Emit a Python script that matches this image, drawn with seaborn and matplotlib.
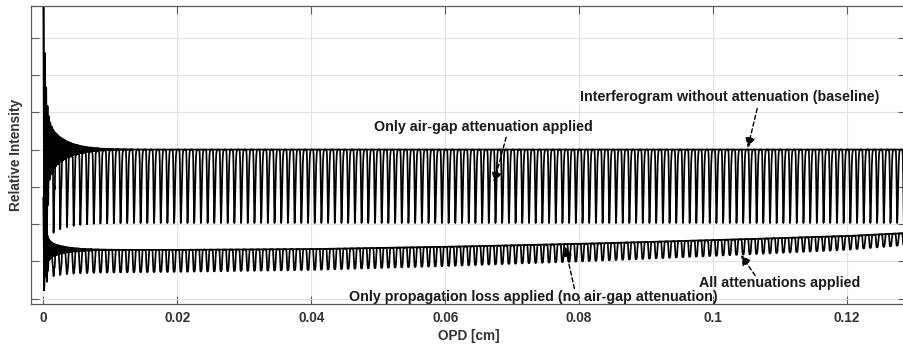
import numpy as np
import pandas as pd
import matplotlib
matplotlib.use("Agg")
import matplotlib.pyplot as plt
import seaborn as sns

# ---------------- values ----------------
# x axis ticks
xticks = [0, 0.02, 0.04, 0.06, 0.08, 0.10, 0.12]
xtick_labels = ["0", "0.02", "0.04", "0.06", "0.08", "0.1", "0.12"]
yticks = [0, 1, 2, 3, 4, 5, 6, 7]          # unlabeled y ticks (relative units)

# fringe period of the air-gap modulation (cm) and OPD extent
fringe_period = 0.001
opd_end = 0.12883

# baseline interferogram: mean level and centre-burst parameters
baseline_level = 4.0
burst_wavelength = 0.0002
burst_amp = [3.4, 0.9]          # amplitudes of the two decaying components
burst_decay = [0.0003, 0.0025]  # decay lengths (cm)

# air-gap only: dips from the baseline level down to ~2.0
airgap_depth = 1.97

# propagation loss: top line of the lower band (read at these OPDs)
prop_x = [0.0, 0.02, 0.04, 0.06, 0.08, 0.10, 0.12, 0.12883]
prop_level = [1.31, 1.31, 1.33, 1.39, 1.47, 1.57, 1.68, 1.76]

# all attenuations: depth of the loops under the propagation line
all_x = [0.0, 0.04, 0.09, 0.12, 0.12883]
all_depth = [0.62, 0.56, 0.45, 0.37, 0.32]

# annotations: (text, text xy, arrow tail xy, arrow tip xy)
labels = [
    ("Interferogram without attenuation (baseline)", (0.1025, 5.41), (0.1066, 5.10), (0.1052, 4.05)),
    ("Only air-gap attenuation applied", (0.0657, 4.60), (0.0691, 4.33), (0.0673, 3.12)),
    ("Only propagation loss applied (no air-gap attenuation)", (0.0731, 0.05), (0.0793, 0.27), (0.0779, 1.40)),
    ("All attenuations applied", (0.1100, 0.42), (0.1063, 0.62), (0.1042, 1.17)),
]

# ---------------- build the curves ----------------
x = np.linspace(0.0, opd_end, 90000)
env = burst_amp[0] * np.exp(-x / burst_decay[0]) + burst_amp[1] * np.exp(-x / burst_decay[1])
burst = env * np.cos(2 * np.pi * x / burst_wavelength)
baseline = baseline_level + burst

phi = np.mod(x / fringe_period, 1.0) - 0.5
sig = np.where(phi < 0, 0.07, 0.13)
g_up = np.exp(-0.5 * (phi / sig) ** 2)
wl = np.where(phi < 0, 0.17, 0.21)
g_lo = np.exp(-np.abs(phi / wl) ** 4)

airgap = baseline * (1 - (airgap_depth / baseline_level) * g_up)

top = np.interp(x, prop_x, prop_level)
prop = top * (1 + burst / baseline_level)
depth = np.interp(x, all_x, all_depth)
allatt = prop * (1 - (depth / top) * g_lo)

df = pd.DataFrame({"OPD": x, "baseline": baseline, "airgap": airgap,
                   "prop": prop, "all": allatt})

# ---------------- draw ----------------
sns.set_theme(style="whitegrid")
plt.rcParams["font.family"] = ["Liberation Sans", "DejaVu Sans"]
plt.rcParams["font.weight"] = "bold"

fig = plt.figure(figsize=(9.04, 3.45), dpi=100)
ax = fig.add_axes([31 / 904, 1 - 304 / 345, (906 - 31) / 904, (304 - 6) / 345])

for col in ["airgap", "all", "prop", "baseline"]:
    sns.lineplot(data=df, x="OPD", y=col, ax=ax, color="black", lw=1.25,
                 estimator=None, sort=False, legend=False)

x0 = 43.5
scale = 6695.0
ax.set_xlim((31 - x0) / scale, (906 - x0) / scale)
ax.set_ylim(-0.142, 7.85)
ax.set_xticks(xticks)
ax.set_xticklabels(xtick_labels)
ax.set_yticks(yticks)
ax.set_yticklabels([])

ax.grid(True, color="#e3e3e3", lw=0.8)
for s in ax.spines.values():
    s.set_color("#5a5a5a")
    s.set_linewidth(0.9)
ax.tick_params(axis="both", direction="in", length=6, width=0.8, color="#5a5a5a",
               top=True, right=True, bottom=True, left=True,
               labelsize=9.8, labelcolor="#333333", pad=5)
for lab in ax.get_xticklabels():
    lab.set_fontweight("bold")

ax.set_xlabel("OPD [cm]", fontsize=9.8, fontweight="bold", color="#333333", labelpad=3)
ax.set_ylabel("Relative Intensity", fontsize=9.8, fontweight="bold", color="#333333", labelpad=1)

for text, txy, tail, tip in labels:
    ax.text(txy[0], txy[1], text, ha="center", va="center", fontsize=10.3,
            fontweight="bold", color="#1a1a1a")
    ax.annotate("", xy=tip, xytext=tail,
                arrowprops=dict(arrowstyle="-|>", color="black", lw=1.0,
                                linestyle=(0, (3, 2)), mutation_scale=15,
                                shrinkA=0, shrinkB=0))

fig.savefig("out.png", dpi=100)
